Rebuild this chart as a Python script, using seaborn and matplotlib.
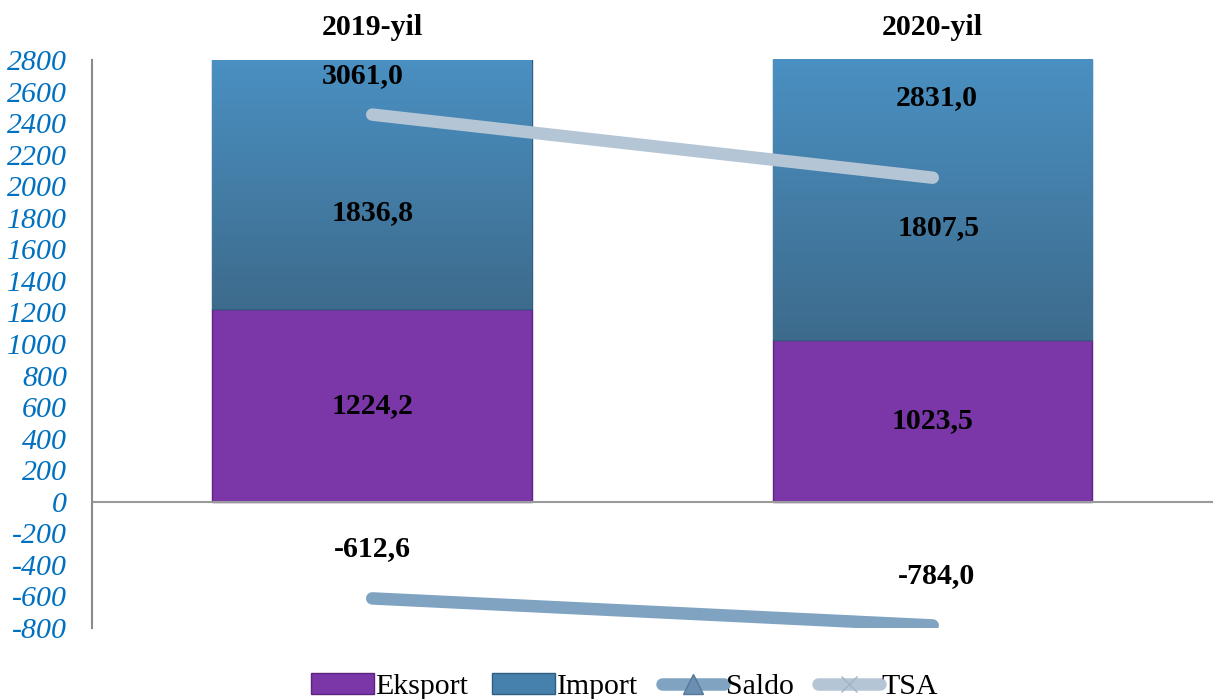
import numpy as np
import matplotlib
matplotlib.use("Agg")
import matplotlib.pyplot as plt
from matplotlib.patches import Patch
from matplotlib.lines import Line2D
import seaborn as sns

yillar = ["2019-yil", "2020-yil"]
eksport = [1224.2, 1023.5]
importt = [1836.8, 1807.5]
saldo = [-612.6, -784.0]
tsa = [3061.0, 2831.0]

sns.set_theme(style="white")
plt.rcParams["font.family"] = ["Liberation Serif", "DejaVu Serif"]
plt.rcParams["text.color"] = "black"

fig = plt.figure(figsize=(12.13, 6.99), dpi=100)
ax = fig.add_axes([0.0758, 0.1016, 0.9242, 0.8126])

pos = np.arange(len(yillar))
sns.barplot(x=pos, y=eksport, color="#7B36A8", width=0.57, ax=ax,
            native_scale=True, saturation=1, edgecolor="#5c2580", linewidth=1)
sns.barplot(x=pos, y=importt, bottom=eksport, color="#4680AC", width=0.57, ax=ax,
            native_scale=True, saturation=1, edgecolor="#2f5f80", linewidth=1)

# gradient na import ustunlari
grad = np.linspace(0, 1, 256).reshape(-1, 1)
cmap = matplotlib.colors.LinearSegmentedColormap.from_list("imp", ["#4a90c2", "#3d6b8c"])
for p in ax.patches[len(eksport):]:
    x0, y0 = p.get_x(), p.get_y()
    im = ax.imshow(grad, cmap=cmap, aspect="auto", origin="upper",
                   extent=[x0, x0 + p.get_width(), y0, min(y0 + p.get_height(), 2800)], zorder=p.get_zorder())
    im.set_clip_path(p)

sns.lineplot(x=pos, y=saldo, ax=ax, color="#7FA3C1", linewidth=9,
             solid_capstyle="round", zorder=5)

ax2 = ax.twinx()
sns.lineplot(x=pos, y=tsa, ax=ax2, color="#B4C5D5", linewidth=9,
             solid_capstyle="round", zorder=5)
ax2.set_ylim(1190, 3260)
ax2.set_axis_off()

ax.set_xlim(-0.5, 1.5)
ax.set_ylim(-800, 2800)
ax.set_yticks(np.arange(-800, 2801, 200))
ax.set_yticklabels([str(v) for v in range(-800, 2801, 200)], fontstyle="italic",
                   color="#0070C0", fontsize=21.5)
ax.tick_params(axis="y", length=0, pad=18)
ax.xaxis.tick_top()
ax.set_xticks(pos)
ax.set_xticklabels(yillar, fontweight="bold", fontsize=21.5, color="black")
ax.tick_params(axis="x", length=0, pad=14)
for s in ["top", "right", "bottom"]:
    ax.spines[s].set_visible(False)
ax.spines["left"].set_color("#8a8a8a")
ax.spines["left"].set_linewidth(1.5)
ax.axhline(0, color="#9a9a9a", linewidth=1.5, zorder=1)

fmt = lambda v: f"{v:.1f}".replace(".", ",")
lab = dict(fontsize=21.5, fontweight="bold", ha="center", va="center", color="black", zorder=10)
imp_frac = [0.33, 0.395]
for i in pos:
    ax.text(i, eksport[i] / 2, fmt(eksport[i]), **lab)
    ax.text(i + 0.01 * i, eksport[i] + importt[i] * imp_frac[i], fmt(importt[i]), **lab)
    ax.annotate(fmt(saldo[i]), (i, saldo[i]), xytext=(3 * i, 36),
                textcoords="offset points", **lab)
tsa_off = [28, 58]
for i in pos:
    ax2.annotate(fmt(tsa[i]), (i, tsa[i]), xytext=(-7 + 10 * i, tsa_off[i]),
                 textcoords="offset points", **lab)

handles = [
    Patch(facecolor="#7B36A8", edgecolor="#5c2580"),
    Patch(facecolor="#4680AC", edgecolor="#2f5f80"),
    Line2D([], [], color="#7FA3C1", linewidth=9, marker="^", markersize=15,
           markerfacecolor="#6a8fb0", markeredgecolor="#56789a", solid_capstyle="round"),
    Line2D([], [], color="#B4C5D5", linewidth=9, marker="x", markersize=12,
           markeredgecolor="#a0b4c6", solid_capstyle="round"),
]
fig.legend(handles, ["Eksport", "Import", "Saldo", "TSA"], loc="lower center",
           bbox_to_anchor=(0.515, -0.04), ncol=4, frameon=False, fontsize=21.5,
           handlelength=2.1, handletextpad=0.05, columnspacing=0.8, labelcolor="black")

fig.savefig("out.png", dpi=100)
